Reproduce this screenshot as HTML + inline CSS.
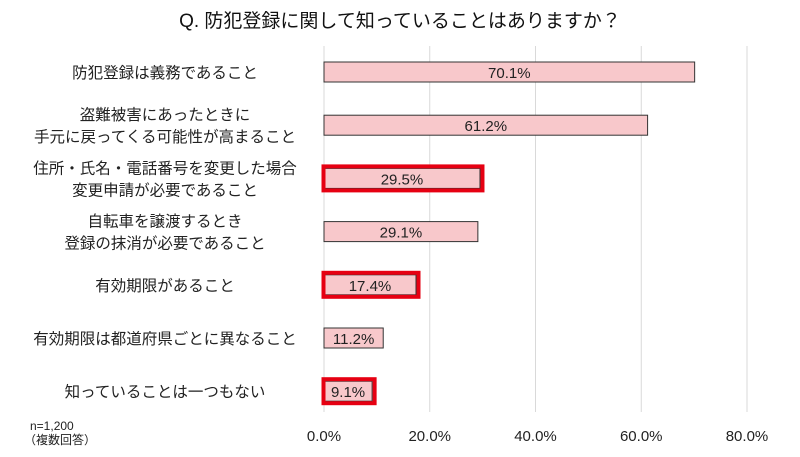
<!DOCTYPE html>
<html><head><meta charset="utf-8"><style>
body{margin:0;background:#fff;}
svg{display:block;font-family:"Liberation Sans","Noto Sans CJK JP",sans-serif;}
</style></head><body>
<svg id="chart" width="800" height="457" viewBox="0 0 800 457">
<text x="400" y="27" text-anchor="middle" font-size="19" fill="#111">Q. 防犯登録に関して知っていることはありますか？</text>
<g id="grid"></g><g id="bars"></g><g id="labels"></g><g id="ticks"></g>
<text x="30" y="430" font-size="12" fill="#222">n=1,200</text>
<text x="24" y="444" font-size="12" fill="#222">（複数回答）</text>
</svg>
<script>
const categories=[["防犯登録は義務であること"],["盗難被害にあったときに","手元に戻ってくる可能性が高まること"],["住所・氏名・電話番号を変更した場合","変更申請が必要であること"],["自転車を譲渡するとき","登録の抹消が必要であること"],["有効期限があること"],["有効期限は都道府県ごとに異なること"],["知っていることは一つもない"]];
const values=[70.1,61.2,29.5,29.1,17.4,11.2,9.1];
const highlighted=[false,false,true,false,true,false,true];
const tickValues=[0,20,40,60,80];
const NS="http://www.w3.org/2000/svg";
const x0=324,pxPer=(747-324)/80,yTop=45.4,band=53.2,barH=20;
const xS=v=>x0+v*pxPer, yC=i=>yTop+band*(i+0.5);
function mk(t,a,p){const e=document.createElementNS(NS,t);for(const k in a)e.setAttribute(k,a[k]);p.appendChild(e);return e;}
const grid=document.getElementById('grid'),bars=document.getElementById('bars'),labels=document.getElementById('labels'),ticks=document.getElementById('ticks');
tickValues.forEach(v=>{
 const l=mk('line',{x1:xS(v),x2:xS(v),y1:46,y2:412,stroke:'#d9d9d9','stroke-width':1},grid);
 
 
 const t=mk('text',{x:xS(v),y:441,'text-anchor':'middle','font-size':15,fill:'#222'},ticks);
 t.textContent=v.toFixed(1)+'%';
 
 
});
values.forEach((v,i)=>{
 const y=yC(i);
 const r=mk('rect',{x:x0,y:y-barH/2,width:xS(v)-x0,height:barH,fill:'#f8c8cb',stroke:'#333','stroke-width':1},bars);
 
 
 if(highlighted[i]){
  const h=mk('rect',{x:x0-0.5,y:y-barH/2-2,width:xS(v)-x0+3,height:barH+4,fill:'none',stroke:'#e60012','stroke-width':4},bars);
  
  
 }
 const vt=mk('text',{x:(x0+xS(v))/2,y:y+6,'text-anchor':'middle','font-size':15,fill:'#222'},bars);
 vt.textContent=v.toFixed(1)+'%';
 
 
 const lines=categories[i];
 lines.forEach((s,j)=>{
  const t=mk('text',{x:165,y:y+6+(j-(lines.length-1)/2)*22,'text-anchor':'middle','font-size':15.5,fill:'#222'},labels);
  t.textContent=s;
  
  
 });
});
</script>
</body></html>
